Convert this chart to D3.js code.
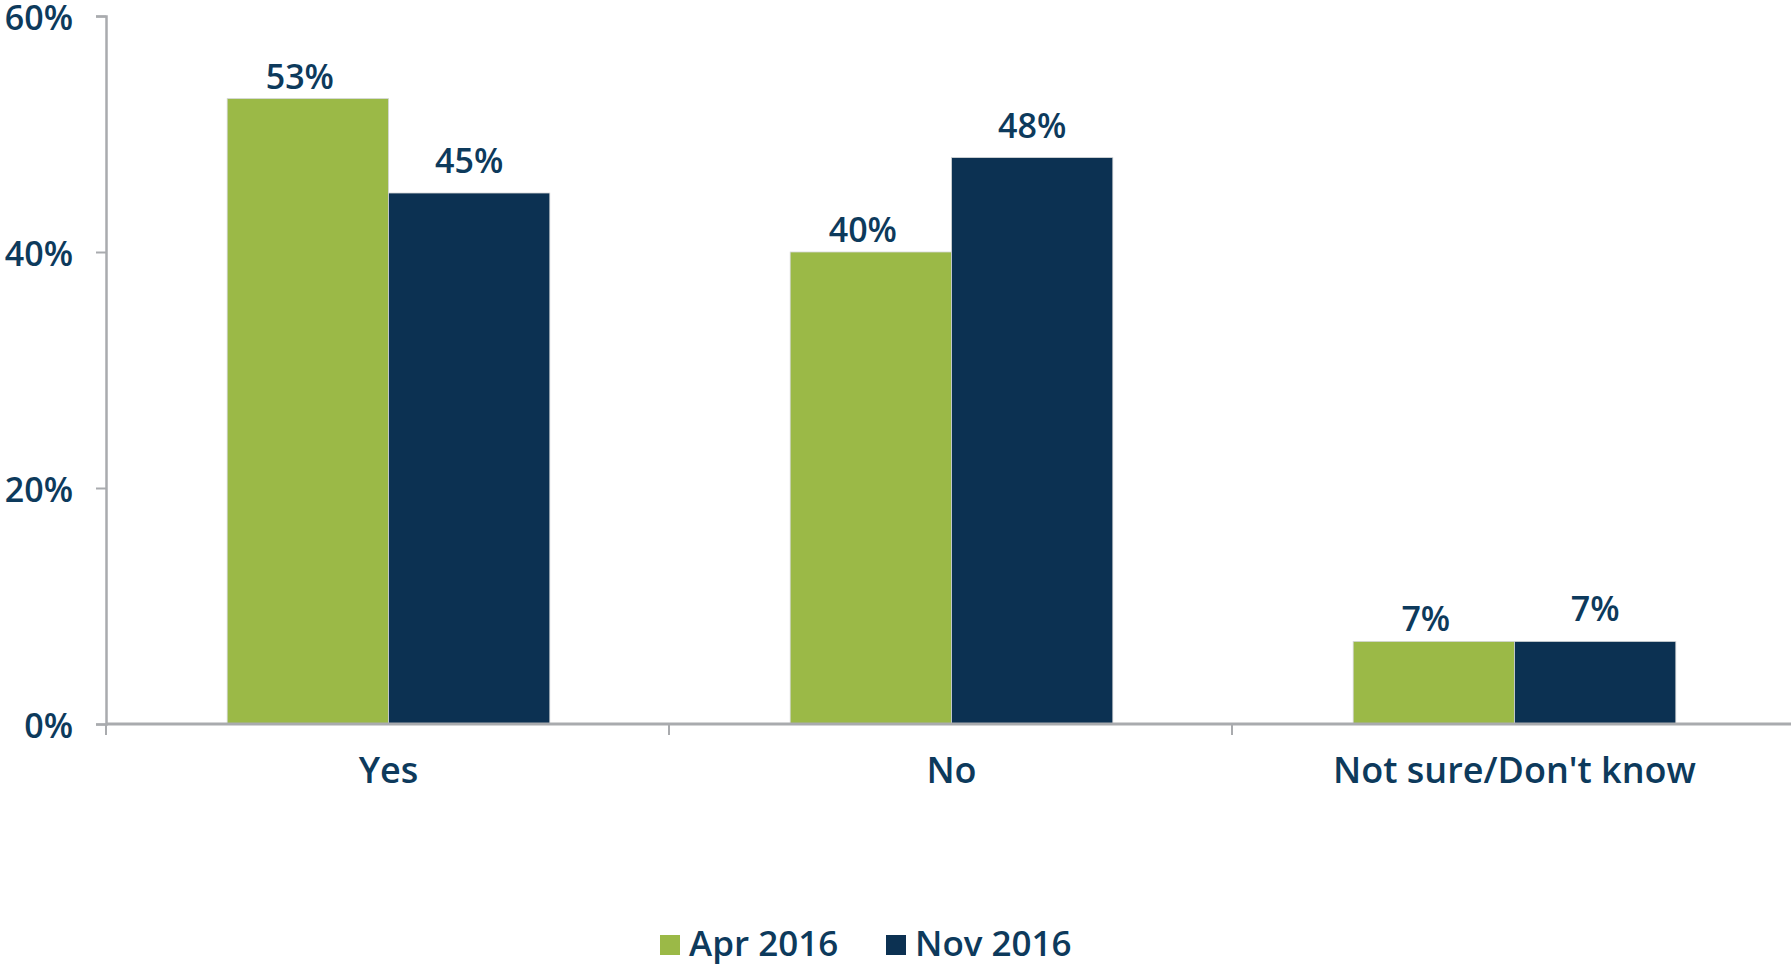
<!DOCTYPE html>
<html>
<head>
<meta charset="utf-8">
<script src="https://d3js.org/d3.v7.min.js"></script>
<style>
  body { margin: 0; background: #fff; }
  text { font-family: "Open Sans", sans-serif; fill: #0d3a5c; }
</style>
</head>
<body>
<div id="chartBox"></div>
<script>
var categories = ["Yes", "No", "Not sure/Don't know"];
var seriesNames = ["Apr 2016", "Nov 2016"];
var apr2016 = [0.53, 0.40, 0.07];
var nov2016 = [0.45, 0.48, 0.07];
var yTicks = [0, 0.2, 0.4, 0.6];

(function () {
  'use strict';

  var colors = ["#9bb947", "#0c3152"];
  var axisColor = "#a9abae";

  var outerWidth = 1791,
      outerHeight = 965,
      plotLeft = 106,
      plotRight = 1796,
      baseline = 724,
      plotTop = 16;

  var rows = categories.map(function(c, i) {
    return { cat: c, values: [apr2016[i], nov2016[i]] };
  });

  var svg = d3.select("#chartBox").append("svg")
    .attr("width", outerWidth)
    .attr("height", outerHeight);

  var y = d3.scaleLinear().domain([0, 0.6]).range([baseline, plotTop]);

  var x0 = d3.scaleBand().domain(categories).range([plotLeft + 1, plotRight]);

  var x1 = d3.scaleBand().domain(seriesNames)
    .range([0, x0.bandwidth()])
    .paddingOuter(0.745);

  // y axis
  var yAxis = d3.axisLeft(y)
    .tickValues(yTicks)
    .tickFormat(d3.format(".0%"))
    .tickSize(10)
    .tickPadding(23);

  var gy = svg.append("g")
    .attr("transform", "translate(" + plotLeft + ",0)")
    .call(yAxis);

  gy.select(".domain").attr("stroke", axisColor).attr("stroke-width", 2.5);
  gy.selectAll(".tick line").attr("stroke", axisColor).attr("stroke-width", 2);
  gy.selectAll(".tick text")
    .attr("font-size", 34)
    .attr("font-weight", 600)
    .attr("fill", "#0d3a5c")
    .attr("dy", "0.4em");

  // bars
  var groups = svg.selectAll(".group")
    .data(rows)
    .enter().append("g")
    .attr("class", "group")
    .attr("transform", function(d) { return "translate(" + x0(d.cat) + ",0)"; });

  function pairs(d) {
    return d.values.map(function(v, i) { return { name: seriesNames[i], value: v, i: i }; });
  }

  groups.selectAll("rect")
    .data(pairs)
    .enter().append("rect")
    .attr("x", function(d) { return x1(d.name); })
    .attr("y", function(d) { return y(d.value); })
    .attr("width", x1.bandwidth())
    .attr("height", function(d) { return baseline - y(d.value); })
    .attr("fill", function(d) { return colors[d.i]; })
    .attr("stroke", "#d4d6d8")
    .attr("stroke-width", 0.8);

  // value labels (green ones sit a bit lower and to the left)
  groups.selectAll(".val")
    .data(pairs)
    .enter().append("text")
    .attr("class", "val")
    .attr("x", function(d) { return x1(d.name) + x1.bandwidth() / 2 + (d.i === 0 ? -8 : 0); })
    .attr("y", function(d) { return y(d.value) - (d.i === 0 ? 10 : 20); })
    .attr("text-anchor", "middle")
    .attr("font-size", 34)
    .attr("font-weight", 600)
    .text(function(d) { return d3.format(".0%")(d.value); });

  // x axis baseline and boundary ticks
  svg.append("line")
    .attr("x1", plotLeft).attr("x2", outerWidth)
    .attr("y1", baseline).attr("y2", baseline)
    .attr("stroke", axisColor)
    .attr("stroke-width", 3);

  var bounds = categories.map(function(c) { return x0(c) - 1; });
  svg.selectAll(".xtick")
    .data(bounds)
    .enter().append("line")
    .attr("class", "xtick")
    .attr("x1", function(d) { return d; })
    .attr("x2", function(d) { return d; })
    .attr("y1", baseline)
    .attr("y2", baseline + 11)
    .attr("stroke", axisColor)
    .attr("stroke-width", 2);

  svg.selectAll(".catlabel")
    .data(categories)
    .enter().append("text")
    .attr("class", "catlabel")
    .attr("x", function(d) { return x0(d) + x0.bandwidth() / 2; })
    .attr("y", 783)
    .attr("text-anchor", "middle")
    .attr("font-size", 36)
    .attr("font-weight", 600)
    .text(function(d) { return d; });

  // legend
  var legend = svg.append("g")
    .attr("transform", "translate(660,935)");

  var items = legend.selectAll(".item")
    .data(seriesNames)
    .enter().append("g")
    .attr("class", "item")
    .attr("transform", function(d, i) { return "translate(" + (i * 226) + ",0)"; });

  items.append("rect")
    .attr("width", 20)
    .attr("height", 20)
    .attr("fill", function(d, i) { return colors[i]; });

  items.append("text")
    .attr("x", 29)
    .attr("y", 21)
    .attr("font-size", 35)
    .attr("font-weight", 600)
    .text(function(d) { return d; });
})();
</script>
</body>
</html>
